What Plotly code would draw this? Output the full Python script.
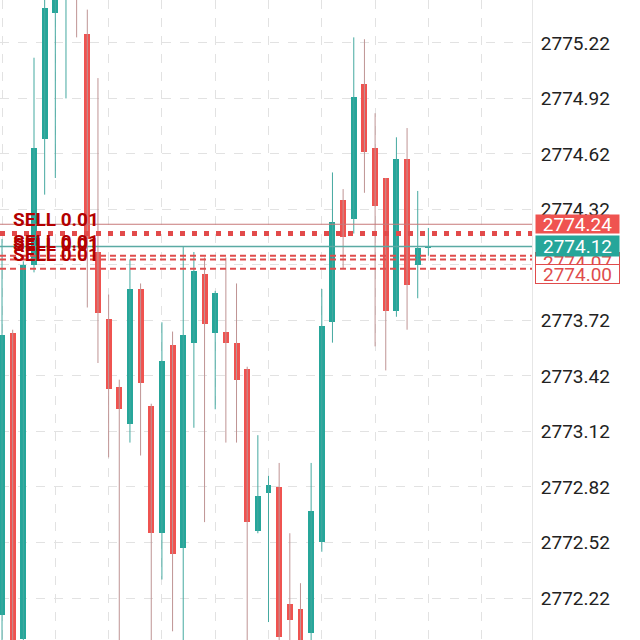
import plotly.graph_objects as go

# ---------------- data ----------------
opens = [2772.13, 2773.65, 2772.00, 2774.02, 2774.70, 2775.38, 2775.51, 2775.67, 2775.27, 2774.09,
         2773.73, 2773.36, 2773.16, 2773.89, 2773.26, 2772.57, 2773.59, 2772.49, 2773.60, 2773.97,
         2773.65, 2773.66, 2773.60, 2773.46, 2772.58, 2772.79, 2772.82, 2772.19, 2772.16, 2772.03,
         2772.52, 2773.71, 2774.37, 2774.27, 2775.00, 2774.65, 2774.49, 2773.77, 2774.59, 2774.02,
         2774.11]
highs = [2774.16, 2773.67, 2774.04, 2775.14, 2775.61, 2775.70, 2775.75, 2775.75, 2775.40, 2775.03,
         2773.86, 2773.40, 2774.05, 2773.92, 2773.27, 2773.71, 2773.66, 2774.12, 2774.09, 2774.06,
         2773.88, 2774.06, 2773.92, 2773.47, 2773.10, 2772.88, 2772.95, 2772.57, 2772.30, 2772.95,
         2773.89, 2774.52, 2774.43, 2775.25, 2775.24, 2774.84, 2774.49, 2774.71, 2774.76, 2774.42,
         2774.22]
lows = [2771.94, 2771.56, 2771.97, 2773.98, 2774.40, 2774.49, 2774.92, 2775.25, 2773.79, 2773.49,
        2772.98, 2771.89, 2773.06, 2772.99, 2771.94, 2772.32, 2772.04, 2771.97, 2773.14, 2772.63,
        2773.24, 2773.06, 2773.06, 2771.94, 2772.57, 2772.09, 2771.97, 2771.97, 2771.83, 2771.97,
        2772.47, 2773.60, 2774.00, 2774.19, 2774.41, 2773.58, 2773.45, 2773.74, 2773.67, 2773.84,
        2774.07]
closes = [2773.64, 2771.67, 2774.02, 2774.65, 2775.41, 2775.56, 2775.67, 2775.51, 2774.16, 2773.76,
          2773.35, 2773.24, 2773.89, 2773.38, 2772.57, 2773.50, 2772.46, 2773.64, 2773.99, 2773.70,
          2773.87, 2773.60, 2773.40, 2772.63, 2772.77, 2772.83, 2772.01, 2772.10, 2771.89, 2772.69,
          2773.69, 2774.25, 2774.17, 2774.93, 2774.63, 2774.34, 2773.77, 2774.59, 2773.91, 2774.11,
          2774.12]

y_ticks = [2772.22, 2772.52, 2772.82, 2773.12, 2773.42, 2773.72, 2774.02, 2774.32,
           2774.62, 2774.92, 2775.22]
x_grid = [0, 5, 10, 15, 20, 25, 30, 35, 40, 45]

ask_price = 2774.24
bid_price = 2774.12
dotted_level = 2774.19
order_prices = [2774.07, 2774.05, 2774.00]
sell_label_prices = [2774.19, 2774.07, 2774.05, 2774.00]
sell_label = "SELL 0.01"
order_tags = ["2774.07", "2774.00"]

# ---------------- styling ----------------
UP = "#26a69a"
DOWN = "#ef5350"
UP_WICK = "#45a9a0"
DOWN_WICK = "#bf9494"

idx = list(range(len(opens)))
fig = go.Figure()

# wicks
for up, col in ((True, UP_WICK), (False, DOWN_WICK)):
    xs, ys = [], []
    for i in idx:
        if (closes[i] >= opens[i]) == up:
            xs += [i, i, None]
            ys += [lows[i], highs[i], None]
    fig.add_trace(go.Scatter(x=xs, y=ys, mode="lines", line=dict(color=col, width=1),
                             hoverinfo="skip", showlegend=False))

# bodies
base = [min(o, c) for o, c in zip(opens, closes)]
height = [max(abs(c - o), 0.012) for o, c in zip(opens, closes)]
colors = [UP if c >= o else DOWN for o, c in zip(opens, closes)]
fig.add_trace(go.Bar(x=idx, y=height, base=base, width=0.56, marker=dict(color=colors, line=dict(width=0)),
                     showlegend=False))

shapes = []
shapes.append(dict(type="line", xref="paper", x0=0, x1=1, yref="y", y0=ask_price, y1=ask_price,
                   line=dict(color="#c77a7a", width=1), layer="above"))
shapes.append(dict(type="line", xref="paper", x0=0, x1=1, yref="y", y0=dotted_level, y1=dotted_level,
                   line=dict(color="#e24a4a", width=5, dash="5px,7px"), layer="above"))
shapes.append(dict(type="line", xref="paper", x0=0, x1=1, yref="y", y0=bid_price, y1=bid_price,
                   line=dict(color="#5aaaa4", width=1.5), layer="above"))
for p in order_prices:
    shapes.append(dict(type="line", xref="paper", x0=0, x1=1, yref="y", y0=p, y1=p,
                       line=dict(color="#e04c4c", width=2, dash="6px,4px"), layer="above"))

annotations = []
for p in sell_label_prices:
    annotations.append(dict(xref="paper", x=0, xanchor="left", xshift=11, yref="y", y=p,
                            yanchor="bottom", yshift=1, text="<b>" + sell_label + "</b>",
                            showarrow=False,
                            font=dict(family="Roboto", size=19, color="#b30000")))

for k, t in enumerate(order_tags):
    annotations.append(dict(xref="paper", x=1, xanchor="left", xshift=3, yref="y", y=order_prices[0],
                            yanchor="middle", yshift=-6 - 12 * k, text=t, showarrow=False,
                            width=83, height=18, bgcolor="white", bordercolor="#e04c4c", borderwidth=1,
                            borderpad=0, font=dict(family="Roboto", size=19, color="#e04c4c")))
annotations.append(dict(xref="paper", x=1, xanchor="left", xshift=3, yref="y", y=bid_price,
                        yanchor="middle", text=f"{bid_price:.2f}", showarrow=False, width=83, height=20,
                        bgcolor=UP, borderpad=0, font=dict(family="Roboto", size=19, color="white")))
annotations.append(dict(xref="paper", x=1, xanchor="left", xshift=3, yref="y", y=ask_price,
                        yanchor="middle", text=f"{ask_price:.2f}", showarrow=False, width=83, height=18,
                        bgcolor=DOWN, borderpad=0, font=dict(family="Roboto", size=19, color="white")))

fig.update_layout(
    width=640, height=640,
    margin=dict(l=0, r=108, t=0, b=0),
    paper_bgcolor="white", plot_bgcolor="white",
    showlegend=False, bargap=0, barmode="overlay",
    shapes=shapes, annotations=annotations,
    xaxis=dict(range=[-0.19, 49.72], tickvals=x_grid, showticklabels=False, showgrid=True,
               gridcolor="#e2e2e2", griddash="dash", gridwidth=1, zeroline=False, showline=False,
               fixedrange=True),
    yaxis=dict(range=[2771.993, 2775.452], side="right", tickvals=y_ticks,
               ticktext=[f"{v:.2f}" for v in y_ticks], showgrid=True, gridcolor="#e2e2e2",
               griddash="dash", gridwidth=1, zeroline=False, showline=True, linecolor="#e6e6e6",
               ticks="", ticklabelstandoff=4, tickfont=dict(family="Roboto", size=19, color="#222222")),
)

fig.write_html("out.html")
